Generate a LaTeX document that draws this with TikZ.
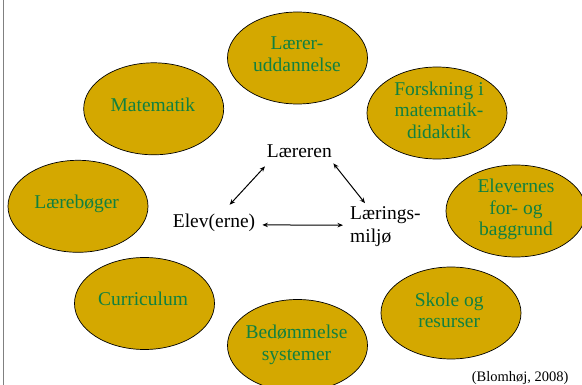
\documentclass[tikz,border=0pt]{standalone}
\usepackage{fontspec}
\setmainfont{Liberation Serif}
\usetikzlibrary{shapes.geometric,arrows.meta,calc}
\definecolor{gold}{RGB}{212,168,0}
\definecolor{tgreen}{RGB}{16,128,64}
\definecolor{edgegray}{RGB}{128,128,128}
\begin{document}
\begin{tikzpicture}[x=1pt,y=-1pt,
  bubble/.style={ellipse, draw=black, line width=0.7pt, fill=gold,
    minimum width=140pt, minimum height=92pt, inner sep=0pt},
  btext/.style={text=tgreen, font=\fontsize{19.5}{21.7}\selectfont,
    align=center, inner sep=0pt, anchor=base},
  ctext/.style={text=black, font=\fontsize{19.5}{22.5}\selectfont,
    inner sep=0pt, anchor=base west},
  tip/.tip={Stealth[length=5.5pt,width=4.5pt]},
  arr/.style={tip-tip, line width=1pt}]
\useasboundingbox (0,0) rectangle (582,385);
\fill[white] (0,0) rectangle (582,385);
\draw[edgegray, line width=1.5pt] (3.3,0) -- (3.3,385);

% bubbles
\node[bubble] (lu)   at (297.5,58)    {};
\node[bubble] (mat)  at (153.7,108.8) {};
\node[bubble] (fors) at (437,113)     {};
\node[bubble] (lb)   at (78,206.3)    {};
\node[bubble] (elv)  at (516,211)     {};
\node[bubble] (cur)  at (144.5,303.5) {};
\node[bubble] (bed)  at (297.5,345.5) {};
\node[bubble] (sko)  at (451,313)     {};

% bubble texts (anchor base = baseline of the last line)
\node[btext] (luT)   at (297,71.7)    {Lærer-\\uddannelse};
\node[btext] (matT)  at (152.9,111.7) {Matematik};
\node[btext] (forsT) at (439,138.5)   {Forskning i\\matematik-\\didaktik};
\node[btext] (lbT)   at (76.7,208.3)  {Lærebøger};
\node[btext] (elvT)  at (516,236)     {Elevernes\\for- og\\baggrund};
\node[btext] (curT)  at (143,306)     {Curriculum};
\node[btext] (bedT)  at (296.5,360)   {Bedømmelse\\systemer};
\node[btext] (skoT)  at (449.2,328)   {Skole og\\resurser};

% centre triangle
\node[ctext] (laer) at (266.7,157.3) {Læreren};
\node[ctext] (elev) at (172.7,228)   {Elev(erne)};
\node[ctext, align=left] (lm) at (350,242.5) {Lærings-\\miljø};

\draw[arr] ($(elev.north)+(15.6,-9.5)$) -- ($(laer.south west)+(-1.7,8.7)$);
\draw[arr] ($(laer.south east)+(1.3,5.7)$) -- ($(lm.north west)+(15,-3.7)$);
\draw[arr] ($(elev.east)+(7,1.6)$) -- ($(lm.west)+(-7,-1.7)$);

\node[text=black, font=\fontsize{14.5}{16}\selectfont, inner sep=0pt, anchor=base west] (src) at (471.7,381.3) {(Blomhøj, 2008)};
\end{tikzpicture}
\end{document}
